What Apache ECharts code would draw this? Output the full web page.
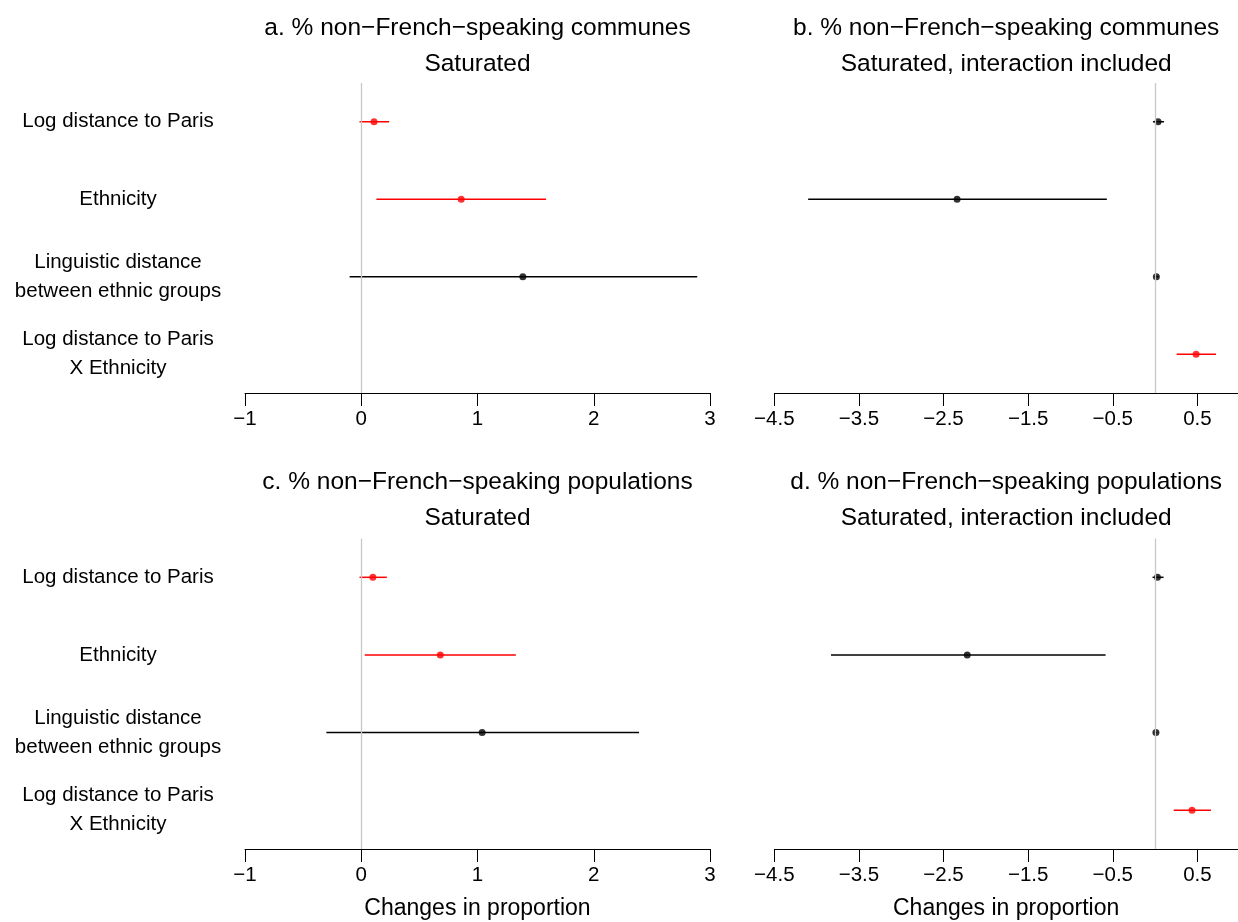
<!DOCTYPE html>
<html>
<head>
<meta charset="utf-8">
<script src="https://cdn.jsdelivr.net/npm/echarts@6/dist/echarts.min.js"></script>
<style>html,body{margin:0;padding:0;background:#fff;}#main{width:1238px;height:922px;}</style>
</head>
<body>
<div id="main"></div>
<script>
// ---- Data ----
const categories = ['Log distance to Paris', 'Ethnicity', 'Linguistic distance\nbetween ethnic groups', 'Log distance to Paris\nX Ethnicity'];

// Panel a: % non-French-speaking communes, Saturated
const aEst = [0.11, 0.86, 1.39, null];
const aLo  = [-0.015, 0.13, -0.10, null];
const aHi  = [0.24, 1.59, 2.89, null];
const aSig = [1, 1, 0, null];

// Panel b: % non-French-speaking communes, Saturated, interaction included
const bEst = [0.035, -2.34, 0.015, 0.485];
const bLo  = [-0.025, -4.10, -0.01, 0.255];
const bHi  = [0.105, -0.57, 0.04, 0.72];
const bSig = [0, 0, 0, 1];

// Panel c: % non-French-speaking populations, Saturated
const cEst = [0.10, 0.68, 1.04, null];
const cLo  = [-0.015, 0.03, -0.30, null];
const cHi  = [0.22, 1.33, 2.39, null];
const cSig = [1, 1, 0, null];

// Panel d: % non-French-speaking populations, Saturated, interaction included
const dEst = [0.028, -2.22, 0.01, 0.437];
const dLo  = [-0.03, -3.83, -0.005, 0.22];
const dHi  = [0.10, -0.585, 0.025, 0.66];
const dSig = [0, 0, 0, 1];

const leftTicks = [-1, 0, 1, 2, 3];
const rightTicks = [-4.5, -3.5, -2.5, -1.5, -0.5, 0.5];

const titles = [
  ['a. % non\u2212French\u2212speaking communes', 'Saturated'],
  ['b. % non\u2212French\u2212speaking communes', 'Saturated, interaction included'],
  ['c. % non\u2212French\u2212speaking populations', 'Saturated'],
  ['d. % non\u2212French\u2212speaking populations', 'Saturated, interaction included']
];
const xName = 'Changes in proportion';

// ---- Chart ----
const FONT = 'Liberation Sans, Arial, Helvetica, sans-serif';
const RED = '#ff0000', BLACK = '#000000';
const chart = echarts.init(document.getElementById('main'), null, {renderer: 'canvas'});

const panels = [
  {est: aEst, lo: aLo, hi: aHi, sig: aSig},
  {est: bEst, lo: bLo, hi: bHi, sig: bSig},
  {est: cEst, lo: cLo, hi: cHi, sig: cSig},
  {est: dEst, lo: dLo, hi: dHi, sig: dSig}
];

const grids = [
  {left: 245, width: 465, top: 83, height: 310},
  {left: 774.3, width: 463.7, top: 83, height: 310},
  {left: 245, width: 465, top: 538.5, height: 310.5},
  {left: 774.3, width: 463.7, top: 538.5, height: 310.5}
];

const fmt = v => String(v).replace('-', '\u2212');

const xAxes = [], yAxes = [], series = [], graphics = [];
panels.forEach((p, i) => {
  const isLeft = (i % 2 === 0);
  const isBottom = i >= 2;
  const ax = {
    type: 'value',
    gridIndex: i,
    splitLine: {show: false},
    axisLine: {show: true, onZero: false, lineStyle: {color: BLACK, width: 1}},
    axisTick: {show: true, length: 13, lineStyle: {color: BLACK, width: 1}},
    axisLabel: {color: BLACK, fontFamily: FONT, fontSize: 20.5, margin: 16, formatter: fmt, showMinLabel: true, showMaxLabel: true}
  };
  if (isLeft) {
    ax.min = -1; ax.max = 3; ax.interval = 1;
  } else {
    ax.min = -4.5; ax.max = 0.98;
    ax.axisTick.customValues = rightTicks;
    ax.axisLabel.customValues = rightTicks;
  }
  if (isBottom) {
    ax.name = xName;
    ax.nameLocation = 'middle';
    ax.nameGap = 48;
    ax.nameTextStyle = {color: BLACK, fontFamily: FONT, fontSize: 23};
  }
  xAxes.push(ax);
  yAxes.push({
    type: 'category',
    gridIndex: i,
    data: categories,
    inverse: true,
    boundaryGap: true,
    axisLine: {show: false},
    axisTick: {show: false},
    splitLine: {show: false},
    axisLabel: {
      show: isLeft, color: BLACK, fontFamily: FONT, fontSize: 20.5,
      align: 'center', margin: 127, lineHeight: 29, interval: 0
    }
  });

  const barData = [], ptData = [];
  for (let k = 0; k < categories.length; k++) {
    if (p.est[k] === null) continue;
    const col = p.sig[k] ? RED : BLACK;
    barData.push({value: [p.lo[k], p.hi[k], k], itemStyle: {color: col}});
    ptData.push({value: [p.est[k], categories[k]], itemStyle: {color: col}});
  }
  // zero reference line
  series.push({
    type: 'scatter', xAxisIndex: i, yAxisIndex: i, data: [], z: 1, silent: true,
    markLine: {
      silent: true, symbol: 'none', animation: false,
      label: {show: false},
      lineStyle: {color: '#c8c8c8', width: 1.3, type: 'solid'},
      data: [{xAxis: 0}]
    }
  });
  // confidence intervals
  series.push({
    type: 'custom', xAxisIndex: i, yAxisIndex: i, z: 2, silent: true,
    encode: {x: [0, 1], y: 2},
    data: barData,
    renderItem: function (params, api) {
      const y = api.value(2);
      const p1 = api.coord([api.value(0), categories[y]]);
      const p2 = api.coord([api.value(1), categories[y]]);
      return {
        type: 'line',
        shape: {x1: p1[0], y1: p1[1], x2: p2[0], y2: p2[1]},
        style: {stroke: api.visual('color'), lineWidth: 1.5}
      };
    }
  });
  // point estimates
  series.push({
    type: 'scatter', xAxisIndex: i, yAxisIndex: i, z: 3, silent: true,
    symbol: 'circle', symbolSize: 7,
    data: ptData
  });

  const g = grids[i];
  const cx = g.left + g.width / 2;
  const y0 = isBottom ? 482 : 28;
  graphics.push({type: 'text', x: cx, y: y0, style: {text: titles[i][0], font: '24.5px ' + FONT, fill: BLACK, textAlign: 'center', textVerticalAlign: 'middle'}});
  graphics.push({type: 'text', x: cx, y: y0 + 36, style: {text: titles[i][1], font: '24.5px ' + FONT, fill: BLACK, textAlign: 'center', textVerticalAlign: 'middle'}});
});

chart.setOption({
  animation: false,
  backgroundColor: '#ffffff',
  grid: grids,
  xAxis: xAxes,
  yAxis: yAxes,
  series: series,
  graphic: graphics
});
</script>
</body>
</html>
